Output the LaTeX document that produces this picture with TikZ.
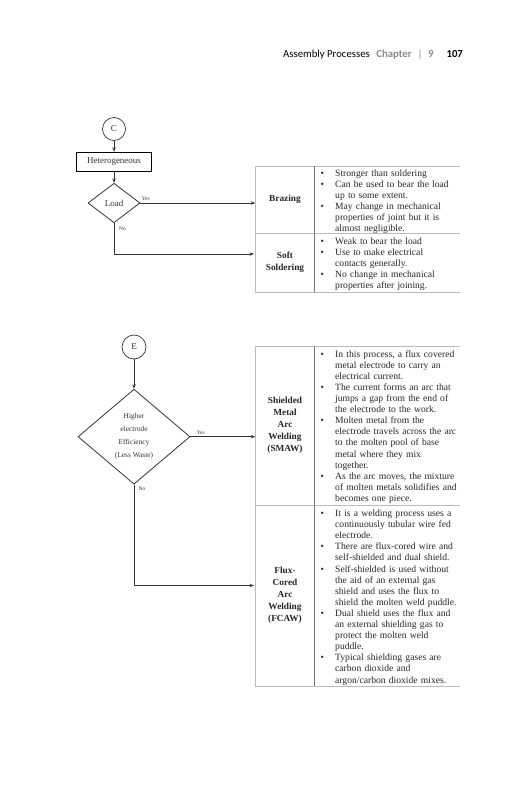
\documentclass[tikz,border=0pt]{standalone}
\usepackage{fontspec}
\setmainfont{Liberation Serif}
\newfontfamily\hdrfont{Carlito}
\usetikzlibrary{shapes.geometric,arrows.meta}
\definecolor{flow}{HTML}{333333}
\definecolor{tgray}{HTML}{BBBBBB}
\definecolor{dgray}{HTML}{777777}
\definecolor{hgray}{HTML}{8A8A8A}
\newcommand{\bul}{\makebox[14.7pt][l]{•}}
\newcommand{\ind}{\hspace*{14.7pt}}
\begin{document}
\begin{tikzpicture}[x=1pt,y=-1pt,
  flowline/.style={draw=flow, line width=0.8pt},
  arr/.style={flowline, -{Stealth[length=4.5pt,width=3.4pt]}},
  circ/.style={circle, draw=flow, line width=0.7pt, minimum size=23pt, inner sep=0pt, font=\fontsize{9}{10}\selectfont, text=flow},
  pbox/.style={rectangle, draw=black, line width=0.9pt, minimum width=75pt, minimum height=19.5pt, inner sep=0pt, font=\fontsize{9}{10}\selectfont, text=flow},
  dia/.style={diamond, draw=flow, line width=0.8pt, inner sep=0pt, text=flow},
  yn/.style={font=\fontsize{5.5}{6}\selectfont, text=flow, inner sep=0pt},
  cell/.style={inner sep=0pt, align=center, font=\fontsize{9.3}{12}\selectfont\bfseries, text=black!85},
  blist/.style={anchor=north west, inner sep=0pt, text width=150pt, align=left, font=\fontsize{9.6}{11.1}\selectfont, text=black!85},
  tline/.style={draw=tgray, line width=0.7pt},
  dline/.style={draw=dgray, line width=0.6pt}
]
\useasboundingbox (0,0) rectangle (531,800);

% header
\node[anchor=base west, inner sep=0pt, font=\hdrfont\fontsize{10.75}{12}\selectfont] (hdr) at (283,57)
  {Assembly Processes\hspace{6.5pt}\textcolor{hgray}{\bfseries Chapter}\hspace{6pt}\textcolor{hgray}{|}\hspace{5.5pt}\textcolor{hgray}{\bfseries 9}\hspace{13pt}\textbf{107}};

% ---------- upper flowchart ----------
\node[circ] (c) at (114,129) {C};
\node[pbox] (het) at (114,162) {Heterogeneous};
\node[dia, minimum width=52pt, minimum height=39.5pt, font=\fontsize{9}{10}\selectfont] (load) at (114,203) {Load};

% table 1
\draw[tline] (460,166) -- (255.5,166) -- (255.5,292) -- (460,292);
\draw[tline] (255.5,233) -- (460,233);
\draw[dline] (314.5,166) -- (314.5,292);

\node[cell, minimum width=59pt, minimum height=67pt] (brz) at (285,199.5) {Brazing};
\node[cell, minimum width=59pt, minimum height=59pt] (sold) at (285,262.5) {Soft\\Soldering};
\coordinate (soldin) at (254,254);

\node[blist] (brzt) at (320.3,169.2) {\bul Stronger than soldering\\
\bul Can be used to bear the load\\
\ind up to some extent.\\
\bul May change in mechanical\\
\ind properties of joint but it is\\
\ind almost negligible.};

\node[blist] (soldt) at (320.3,237.2) {\bul Weak to bear the load\\
\bul Use to make electrical\\
\ind contacts generally.\\
\bul No change in mechanical\\
\ind properties after joining.};

\draw[arr] (c) -- (het);
\draw[arr] (het) -- (load);
\draw[arr] (load.east) -- (load.east -| brz.west) node[yn, pos=0, anchor=south west, xshift=1pt, yshift=1.8pt] (yes1) {Yes};
\draw[arr] (load.south) |- (soldin);
\node[yn, anchor=north west] (no1) at (119,226.5) {No};

% ---------- lower flowchart ----------
\node[circ, minimum size=24pt] (e) at (134,347) {E};
\node[dia, minimum width=112pt, minimum height=95pt, align=center, font=\fontsize{7.4}{13}\selectfont] (eff) at (134,436.7) {Higher\\electrode\\Efficiency\\(Less Waste)};

% table 2
\draw[tline] (460,346) -- (255.5,346) -- (255.5,686) -- (460,686);
\draw[tline] (255.5,505) -- (460,505);
\draw[dline] (314.5,346) -- (314.5,686);

\node[cell, minimum width=59pt, minimum height=159pt] (smaw) at (285,425.5) {Shielded\\Metal\\Arc\\Welding\\(SMAW)};
\node[cell, minimum width=59pt, minimum height=181pt] (fcaw) at (285,595.5) {Flux-\\Cored\\Arc\\Welding\\(FCAW)};
\coordinate (fcawin) at (254,585.5);

\node[blist] (smawt) at (320.3,350.2) {\bul In this process, a flux covered\\
\ind metal electrode to carry an\\
\ind electrical current.\\
\bul The current forms an arc that\\
\ind jumps a gap from the end of\\
\ind the electrode to the work.\\
\bul Molten metal from the\\
\ind electrode travels across the arc\\
\ind to the molten pool of base\\
\ind metal where they mix\\
\ind together.\\
\bul As the arc moves, the mixture\\
\ind of molten metals solidifies and\\
\ind becomes one piece.};

\node[blist] (fcawt) at (320.3,509.7) {\bul It is a welding process uses a\\
\ind continuously tubular wire fed\\
\ind electrode.\\
\bul There are flux-cored wire and\\
\ind self-shielded and dual shield.\\
\bul Self-shielded is used without\\
\ind the aid of an external gas\\
\ind shield and uses the flux to\\
\ind shield the molten weld puddle.\\
\bul Dual shield uses the flux and\\
\ind an external shielding gas to\\
\ind protect the molten weld\\
\ind puddle.\\
\bul Typical shielding gases are\\
\ind carbon dioxide and\\
\ind argon/carbon dioxide mixes.};

\draw[arr] (e) -- (eff);
\draw[arr] (eff.east) -- (eff.east -| smaw.west) node[yn, pos=0, anchor=south west, xshift=6pt, yshift=1.8pt] (yes2) {Yes};
\draw[arr] (eff.south) |- (fcawin);
\node[yn, anchor=north west] (no2) at (138.5,486.5) {No};
\end{tikzpicture}
\end{document}
